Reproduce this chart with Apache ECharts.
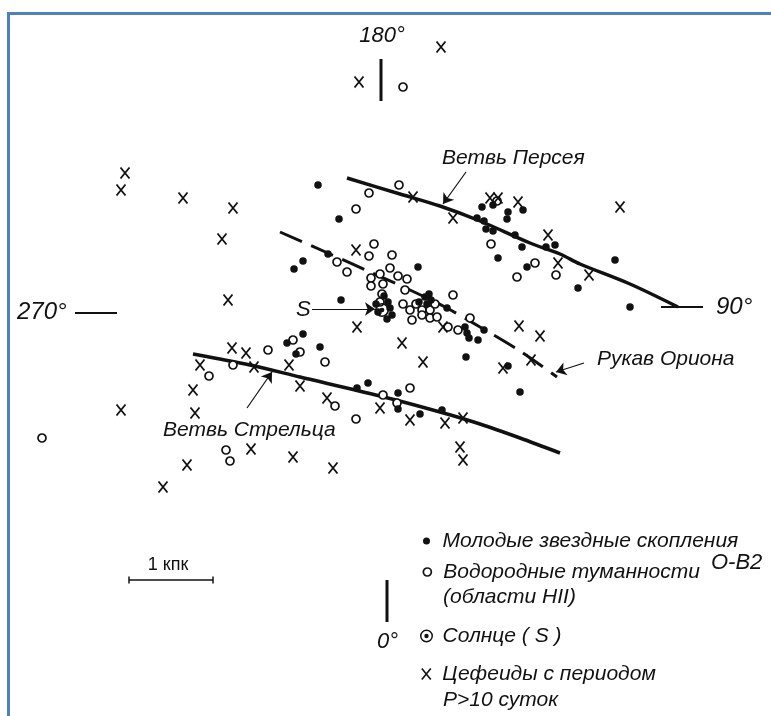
<!DOCTYPE html>
<html><head><meta charset="utf-8">
<script src="https://cdn.jsdelivr.net/npm/echarts/dist/echarts.min.js"></script>
<style>html,body{margin:0;padding:0;background:#fff}#c{width:771px;height:716px}</style>
</head><body><div id="c"></div>
<script>
// ---- data (chart units = picture units, origin top-left) ----
const youngClusters = [
 [318,185],[339,219],[482,207],[493,205],[477,218],[484,221],[486,229],[493,231],[508,212],[507,219],
 [523,210],[515,235],[522,247],[498,258],[527,267],[546,247],[555,245],[578,288],[615,260],[630,307],
 [303,261],[294,269],[328,254],[418,267],[341,300],[303,334],
 [384,296],[388,302],[390,308],[378,312],[387,319],[392,315],[376,304],[419,302],[425,297],[429,294],
 [431,300],[427,304],[447,308],[465,327],[467,333],[478,340],[469,338],[484,330],[466,357],[508,366],[520,392],
 [287,343],[296,354],[320,347],[357,388],[368,383],[398,393],[398,409],[420,414],[442,410]
];
const hiiRegions = [
 [403,87],[42,438],
 [399,185],[369,193],[356,209],[497,201],[491,244],[535,263],[517,277],[556,275],
 [374,244],[369,256],[392,255],[337,262],[347,272],[390,268],[380,274],[371,278],[398,276],[407,279],
 [383,284],[371,286],[405,290],[382,294],[380,302],[453,295],[403,304],[410,310],[416,304],[422,310],
 [430,310],[435,304],[412,320],[422,315],[430,318],[437,317],[448,327],[458,330],[470,318],
 [268,350],[293,340],[300,352],[325,362],[233,365],[209,376],[335,406],[356,419],[383,395],[410,388],
 [397,403],[226,450],[230,461]
];
const cepheids = [
 [441,47],[359,82],[125,173],[121,190],[183,198],[233,208],[222,239],[228,300],[121,410],
 [413,197],[453,218],[490,198],[498,198],[518,202],[620,207],[548,235],[558,263],[589,275],
 [356,250],[357,327],[402,343],[423,362],[443,327],[519,326],[540,336],[531,360],[503,368],
 [232,348],[246,353],[200,365],[254,367],[289,365],[300,386],[193,390],[327,398],[380,408],[195,413],
 [410,420],[445,423],[463,418],[460,447],[463,460],[251,449],[187,465],[293,457],[333,468],[163,487]
];
const sun = [[382,310]];
const perseusArm = [[347,178],[400,194],[440,206],[480,221],[530,243],[560,254],[580,264],[630,284],[678,307]];
const orionArm = [[280,232],[330,254],[370,272],[410,290],[445,307],[480,327],[520,351],[557,377]];
const sagittariusArm = [[193,354],[250,365],[300,377],[380,396],[440,412],[480,424],[520,438],[560,453]];
const tick180 = [[381,59],[381,101]];
const tick270 = [[75,313],[117,313]];
const tick90 = [[661,307],[703,307]];
const tick0 = [[387,580],[387,622]];
const arrowPerseus = [[466,172],[443,204]];
const arrowOrion = [[584,363],[556,372]];
const arrowSagittarius = [[247,408],[272,372]];
const arrowSun = [[312,309],[375,309]];
const scaleBar = [[129,580],[213,580]];
const legendNames = ['Молодые звездные скопления','Водородные туманности','Солнце ( S )','Цефеиды с периодом'];

// ---- chart ----
const INK = '#111';
const FONT = '"Liberation Sans", Arial, sans-serif';
const chart = echarts.init(document.getElementById('c'), null, {renderer:'canvas'});
const SUN_PATH = 'path://M13.5,7A6.5,6.5 0 1 1 0.5,7A6.5,6.5 0 1 1 13.5,7Z M12,7A5,5 0 1 0 2,7A5,5 0 1 0 12,7Z M9.2,7A2.2,2.2 0 1 1 4.8,7A2.2,2.2 0 1 1 9.2,7Z';
const CROSS_PATH = 'path://M0,0L9,11M9,0L0,11';

function seg(data, width, extra) {
  return Object.assign({type:'line', data:data, showSymbol:false, silent:true, animation:false,
    lineStyle:{color:INK, width:width}, z:2}, extra||{});
}
function arrow(data) {
  return {type:'lines', coordinateSystem:'cartesian2d', silent:true, animation:false,
    data:[{coords:data}], symbol:['none','arrow'], symbolSize:[6,10],
    lineStyle:{color:INK, width:1.2, opacity:1}, z:3};
}
function txt(t, x, y, size, opts) {
  return Object.assign({type:'text', silent:true, z:10, style:{text:t, x:x, y:y,
    font:(opts && opts.plain ? '' : 'italic ') + size + 'px ' + FONT, fill:INK,
    textAlign:(opts && opts.align)||'left', textVerticalAlign:'middle'}});
}
const legendText = {color:INK, fontSize:21, fontStyle:'italic', fontFamily:FONT};
function legendAt(name, cy, h) {
  return {data:[{name:name}], left:423 - (h - 7) / 2, top:cy-10.5, padding:0, itemWidth:22, itemHeight:h,
    selectedMode:false, textStyle:legendText, itemStyle:{borderWidth:'inherit'}};
}

chart.setOption({
  backgroundColor:'#fff',
  animation:false,
  grid:{left:0, right:0, top:0, bottom:0},
  xAxis:{type:'value', min:0, max:771, show:false},
  yAxis:{type:'value', min:0, max:716, inverse:true, show:false},
  legend:[
    legendAt(legendNames[0], 541, 7),
    legendAt(legendNames[1], 572, 8),
    legendAt(legendNames[2], 636, 13),
    legendAt(legendNames[3], 674, 11)
  ],
  series:[
    seg(perseusArm, 3.5, {smooth:0.3}),
    seg(sagittariusArm, 3.5, {smooth:0.3}),
    seg(orionArm, 3, {smooth:0.3, lineStyle:{color:INK, width:3, type:[24,10]}}),
    seg(tick180, 3), seg(tick270, 2), seg(tick90, 2), seg(tick0, 3),
    seg(scaleBar, 1.5, {showSymbol:true, symbol:'rect', symbolSize:[1.5,7], itemStyle:{color:INK}}),
    arrow(arrowPerseus), arrow(arrowOrion), arrow(arrowSagittarius), arrow(arrowSun),
    {name:legendNames[1], type:'scatter', data:hiiRegions, symbol:'circle', symbolSize:8, silent:true,
      itemStyle:{color:'#fff', borderColor:INK, borderWidth:1.7, opacity:1}, z:4},
    {name:legendNames[0], type:'scatter', data:youngClusters, symbol:'circle', symbolSize:7.5, silent:true,
      itemStyle:{color:INK, opacity:1}, z:5},
    {name:legendNames[3], type:'scatter', data:cepheids, symbol:CROSS_PATH, symbolSize:[9,11], silent:true,
      itemStyle:{color:INK, borderColor:INK, borderWidth:1.6, opacity:1}, z:5},
    {name:legendNames[2], type:'scatter', data:sun, symbol:SUN_PATH, symbolSize:14, silent:true,
      itemStyle:{color:INK, opacity:1}, z:6}
  ],
  graphic:[
    {type:'polyline', silent:true, z:20, shape:{points:[[8.5,716],[8.5,13.5],[771,13.5]]},
      style:{stroke:'#4f81bd', lineWidth:3, fill:null}},
    txt('180°', 382, 36, 22, {align:'center'}),
    txt('270°', 17, 312, 24),
    txt('90°', 716, 307, 24),
    txt('0°', 377, 642, 22),
    txt('S', 296, 310, 22),
    txt('Ветвь Персея', 442, 158, 21),
    txt('Рукав Ориона', 597, 359, 21),
    txt('Ветвь Стрельца', 163, 430, 21),
    txt('1 кпк', 168, 565, 18, {plain:true, align:'center'}),
    txt('O-B2', 711, 563, 22),
    txt('(области HII)', 443, 597, 21),
    txt('P>10 суток', 443, 700, 21)
  ]
});
</script></body></html>
